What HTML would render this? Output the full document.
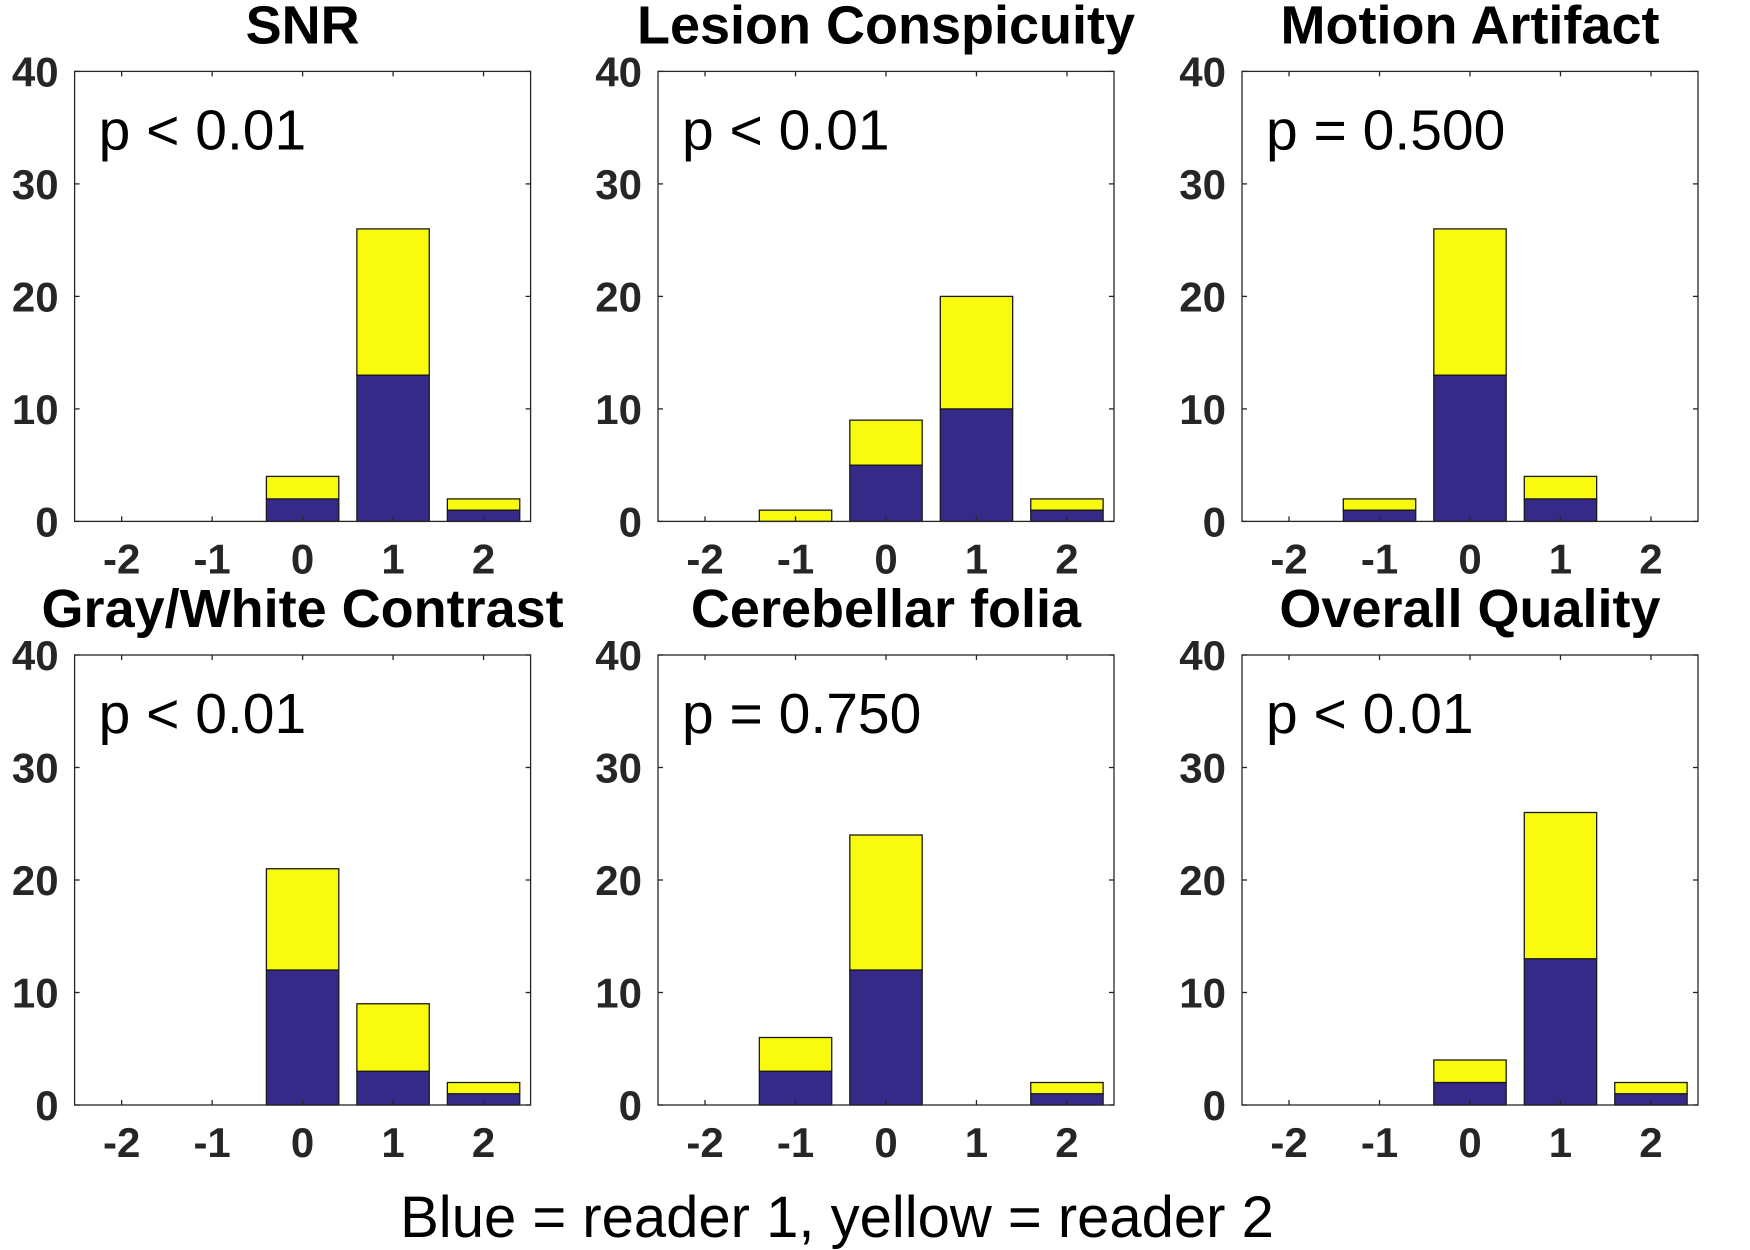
<!DOCTYPE html>
<html><head><meta charset="utf-8"><style>
html,body{margin:0;padding:0;background:#fff;}
svg{display:block;}
text{font-family:"Liberation Sans",Arial,sans-serif;}
</style></head><body>
<svg id="fig" width="1750" height="1250" viewBox="0 0 1750 1250" xmlns="http://www.w3.org/2000/svg">
<text x="837" y="1237" text-anchor="middle" font-size="58" fill="#000">Blue = reader 1, yellow = reader 2</text>
</svg>
<script>
const categories = [-2, -1, 0, 1, 2];
const yTicks = [0, 10, 20, 30, 40];
const titles = ["SNR", "Lesion Conspicuity", "Motion Artifact", "Gray/White Contrast", "Cerebellar folia", "Overall Quality"];
const pLabels = ["p < 0.01", "p < 0.01", "p = 0.500", "p < 0.01", "p = 0.750", "p < 0.01"];
const reader1 = [
  [0, 0, 2, 13, 1],
  [0, 0, 5, 10, 1],
  [0, 1, 13, 2, 0],
  [0, 0, 12, 3, 1],
  [0, 3, 12, 0, 1],
  [0, 0, 2, 13, 1]
];
const reader2 = [
  [0, 0, 2, 13, 1],
  [0, 1, 4, 10, 1],
  [0, 1, 13, 2, 0],
  [0, 0, 9, 6, 1],
  [0, 3, 12, 0, 1],
  [0, 0, 2, 13, 1]
];

const NS = "http://www.w3.org/2000/svg";
const svg = document.getElementById("fig");
const lefts = [74.6, 658, 1242], tops = [71.4, 655];
const W = 456, H = 450, xmin = -2.52, xmax = 2.52, ymax = 40, barW = 0.8;
function mk(tag, attrs, parent) {
  const e = document.createElementNS(NS, tag);
  for (const k in attrs) e.setAttribute(k, attrs[k]);
  parent.appendChild(e);
  return e;
}
for (let i = 0; i < 6; i++) {
  const L = lefts[i % 3], T = tops[Math.floor(i / 3)];
  const xs = v => L + (v - xmin) / (xmax - xmin) * W;
  const ys = v => T + H - v / ymax * H;
  const g = mk("g", {}, svg);
  
  
  const title = mk("text", {x: L + W / 2, y: T - 28, "text-anchor": "middle", "font-size": 54, "font-weight": "bold", fill: "#000"}, g);
  title.textContent = titles[i];
  
  
  categories.forEach((c, j) => {
    const b = reader1[i][j], y2 = reader2[i][j];
    const x0 = xs(c - barW / 2), bw = xs(c + barW / 2) - x0;
    if (b > 0) {
      const r = mk("rect", {x: x0, y: ys(b), width: bw, height: ys(0) - ys(b), fill: "#352a87", stroke: "#1a1a1a", "stroke-width": 1.3}, g);
      
      
    }
    if (y2 > 0) {
      const r = mk("rect", {x: x0, y: ys(b + y2), width: bw, height: ys(b) - ys(b + y2), fill: "#f9fb0e", stroke: "#1a1a1a", "stroke-width": 1.3}, g);
      
      
    }
  });
  const box = mk("rect", {x: L, y: T, width: W, height: H, fill: "none", stroke: "#262626", "stroke-width": 1.3}, g);
  
  
  yTicks.forEach(t => {
    mk("line", {x1: L, x2: L + 5, y1: ys(t), y2: ys(t), stroke: "#262626", "stroke-width": 1.3}, g);
    mk("line", {x1: L + W, x2: L + W - 5, y1: ys(t), y2: ys(t), stroke: "#262626", "stroke-width": 1.3}, g);
    const tl = mk("text", {x: L - 16, y: ys(t) + 15, "text-anchor": "end", "font-size": 42, "font-weight": "bold", fill: "#262626"}, g);
    tl.textContent = t;
    
    
  });
  categories.forEach(c => {
    mk("line", {x1: xs(c), x2: xs(c), y1: T + H, y2: T + H - 5, stroke: "#262626", "stroke-width": 1.3}, g);
    mk("line", {x1: xs(c), x2: xs(c), y1: T, y2: T + 5, stroke: "#262626", "stroke-width": 1.3}, g);
    const tl = mk("text", {x: xs(c), y: T + H + 52, "text-anchor": "middle", "font-size": 42, "font-weight": "bold", fill: "#262626"}, g);
    tl.textContent = c;
    
    
  });
  const p = mk("text", {x: L + 24, y: T + 78, "font-size": 57, fill: "#000"}, g);
  p.textContent = pLabels[i];
  
  
}
</script>
</body></html>
